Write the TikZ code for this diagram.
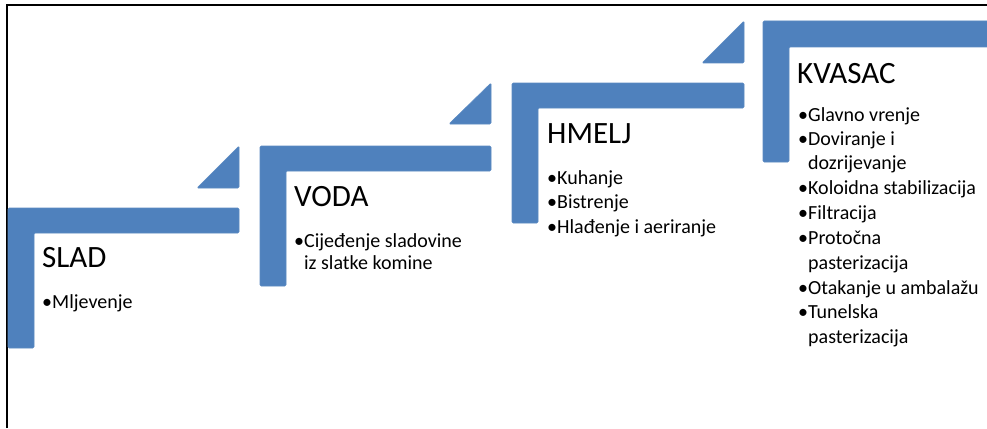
\documentclass[tikz,border=0pt]{standalone}
\usepackage{fontspec}
\setmainfont{Carlito}
\definecolor{stepblue}{HTML}{4F81BD}
\definecolor{stepedge}{HTML}{5B8AC2}
\begin{document}
\begin{tikzpicture}[x=1pt,y=-1pt,
  stepshape/.style={fill=stepblue,draw=stepedge,line width=0.6pt,rounded corners=1.2pt},
  ttl/.style={anchor=base west,inner sep=0pt,font=\fontsize{31}{36}\selectfont},
  itm/.style={anchor=base west,inner sep=0pt,font=\fontsize{20}{24}\selectfont}]
\useasboundingbox (0,0) rectangle (987,428);
\fill[white] (0,0) rectangle (987,428);
% frame
\draw[line width=2pt,black] (7,428) -- (7,5) -- (987,5);
% SLAD
\filldraw[stepshape] (8,208) -- (239,208) -- (239,233) -- (34,233) -- (34,348) -- (8,348) -- cycle;
\filldraw[stepshape] (239,146) -- (239,188) -- (197,188) -- cycle;
% VODA
\filldraw[stepshape] (260,146) -- (491,146) -- (491,171) -- (286,171) -- (286,286) -- (260,286) -- cycle;
\filldraw[stepshape] (491,83) -- (491,124) -- (449,124) -- cycle;
% HMELJ
\filldraw[stepshape] (512,83) -- (744,83) -- (744,108) -- (538,108) -- (538,223) -- (512,223) -- cycle;
\filldraw[stepshape] (744,21) -- (744,63) -- (702,63) -- cycle;
% KVASAC
\filldraw[stepshape] (763,21) -- (990,21) -- (990,47) -- (789,47) -- (789,162) -- (763,162) -- cycle;
% texts
\node[ttl] (t1) at (42,267) {SLAD};
\node[itm] (s1) at (42,308) {•Mljevenje};
\node[ttl] (t2) at (294,206) {VODA};
\node[itm] (v1) at (294,247) {•Cijeđenje sladovine};
\node[itm] (v2) at (294,269) {\phantom{•}iz slatke komine};
\node[ttl] (t3) at (547,143) {HMELJ};
\node[itm] (h1) at (547,184) {•Kuhanje};
\node[itm] (h2) at (547,208) {•Bistrenje};
\node[itm] (h3) at (547,233) {•Hlađenje i aeriranje};
\node[ttl] (t4) at (797,83) {KVASAC};
\node[itm] (k1) at (798,121) {•Glavno vrenje};
\node[itm] (k2) at (798,145) {•Doviranje i};
\node[itm] (k3) at (798,169) {\phantom{•}dozrijevanje};
\node[itm] (k4) at (798,194) {•Koloidna stabilizacija};
\node[itm] (k5) at (798,219) {•Filtracija};
\node[itm] (k6) at (798,244) {•Protočna};
\node[itm] (k7) at (798,269) {\phantom{•}pasterizacija};
\node[itm] (k8) at (798,294) {•Otakanje u ambalažu};
\node[itm] (k9) at (798,318) {•Tunelska};
\node[itm] (k10) at (798,343) {\phantom{•}pasterizacija};
\end{tikzpicture}
\end{document}
